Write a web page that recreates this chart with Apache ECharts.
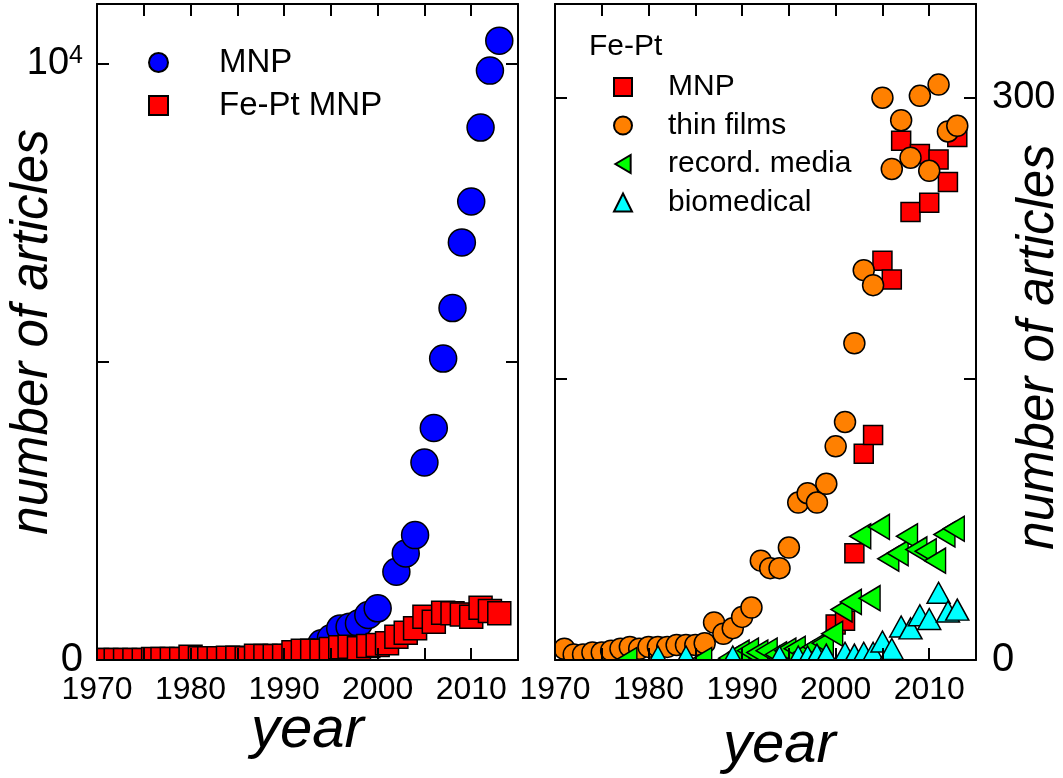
<!DOCTYPE html>
<html>
<head>
<meta charset="utf-8">
<script src="https://cdn.jsdelivr.net/npm/echarts@6/dist/echarts.min.js"></script>
<style>
html,body{margin:0;padding:0;background:#ffffff;}
#chart{width:1063px;height:778px;}
</style>
</head>
<body>
<div id="chart"></div>
<script>
// ---------------- data ----------------
// left panel
const mnpYears   = [1994,1995,1996,1997,1998,1999,2000,2002,2003,2004,2005,2006,2007,2008,2009,2010,2011,2012,2013];
const mnpCounts  = [280,363,530,558,615,754,866,1480,1787,2094,3312,3891,5054,5901,7002,7688,8928,9883,10385];

const fePtYears  = [1970,1971,1972,1973,1974,1975,1976,1977,1978,1979,1980,1981,1982,1983,1984,1985,1986,1987,1988,1989,
                    1990,1991,1992,1993,1994,1995,1996,1997,1998,1999,2000,2001,2002,2003,2004,2005,2006,2007,2008,2009,
                    2010,2011,2012,2013];
const fePtCounts = [0,0,0,0,0,0,17,17,17,17,56,28,28,28,39,39,28,73,67,67,
                    73,128,156,156,156,184,212,223,196,234,251,279,391,458,531,726,642,793,782,765,
                    726,877,821,782];

// right panel (Fe-Pt)
const rMnpYears   = [2000,2001,2002,2003,2004,2005,2006,2007,2008,2009,2010,2011,2012,2013];
const rMnpCounts  = [19,21,57,110,120,213,203,277,239,270,244,267,255,279];

const filmYears   = [1971,1972,1973,1974,1975,1976,1977,1978,1979,1980,1981,1982,1983,1984,1985,1986,1987,1988,1989,1990,
                     1991,1992,1993,1994,1995,1996,1997,1998,1999,2000,2001,2002,2003,2004,2005,2006,2007,2008,2009,2010,
                     2011,2012,2013];
const filmCounts  = [6,3,3,4,4,5,6,7,6,7,7,7,8,8,8,9,20,14,17,23,
                     28,53,49,49,60,84,89,84,94,114,127,169,208,200,300,262,288,268,301,261,
                     307,282,285];

const mediaYears  = [1978,1986,1989,1990,1991,1992,1993,1994,1995,1996,1997,1998,1999,2000,2001,2002,2003,2004,2005,2006,
                     2007,2008,2009,2010,2011,2012,2013];
const mediaCounts = [0,0,1,4,5,4,5,3,5,6,4,7,9,14,27,31,66,33,71,54,
                     57,66,59,58,53,67,70];

const bioYears    = [1981,1984,1989,1994,1996,1997,1998,1999,2001,2002,2003,2004,2005,2006,2007,2008,2009,2010,2011,2012,2013];
const bioCounts   = [0,0,0,0,0,0,1,1,2,1,2,2,8,4,16,15,22,20,34,24,25];

// axis texts
const xAxisTitle = 'year';
const yAxisTitle = 'number of articles';
const xTickStep = 5;       // tick every 5 years, label every 10
const xLabelStep = 10;
const leftYTicks = 5000;
const rightYTicks = 150;
const leftLegendNames = ['MNP', 'Fe-Pt MNP'];
const rightLegendTitle = 'Fe-Pt';
const rightLegendNames = ['MNP', 'thin films', 'record. media', 'biomedical'];

// ---------------- chart ----------------
const NARROW = "'Liberation Sans Narrow','Arial Narrow','Liberation Sans',Arial,sans-serif";
const SANS = "'Liberation Sans',Arial,Helvetica,sans-serif";
const pairs = (xs, ys) => xs.map((x, i) => [x, ys[i]]);
const rKey = n => 'r:' + n;

const lineStyle = {color:'#000', width:2};
const tickStyle = {show:true, inside:true, length:12, lineStyle:{color:'#000', width:2}};

function makeXAxes(gi, nameGap, namePad){
  const base = {type:'value', gridIndex:gi, min:1970, max:2015, interval:xTickStep, z:10,
    axisLine:{show:true, onZero:false, lineStyle:lineStyle},
    axisTick:tickStyle, splitLine:{show:false}};
  return [
    Object.assign({}, base, {position:'bottom', name:xAxisTitle, nameLocation:'middle', nameGap:nameGap,
      nameMoveOverlap:false,
      nameTextStyle:{fontFamily:NARROW, fontStyle:'italic', fontSize:58, color:'#000', padding:namePad},
      axisLabel:{show:true, margin:14, fontFamily:NARROW, fontSize:32, color:'#000',
        formatter: v => (v % xLabelStep === 0 ? String(v) : '')}}),
    Object.assign({}, base, {position:'top', axisLabel:{show:false}})
  ];
}

const ySupRich = {
  z:{fontFamily:NARROW, fontSize:40, color:'#000'},
  b:{fontFamily:SANS, fontSize:38, color:'#000'},
  s:{fontFamily:SANS, fontSize:25, color:'#000', verticalAlign:'top', padding:[0,0,16,0]}
};

const yAxes = [
  // left panel, left side
  {type:'value', gridIndex:0, position:'left', min:0, max:11000, interval:leftYTicks, z:10,
   axisLine:{show:true, onZero:false, lineStyle:lineStyle}, axisTick:tickStyle, splitLine:{show:false},
   name:yAxisTitle, nameLocation:'middle', nameGap:39, nameRotate:90, nameMoveOverlap:false,
   nameTextStyle:{fontFamily:SANS, fontStyle:'italic', fontSize:51, color:'#000'},
   axisLabel:{show:true, margin:14, rich:ySupRich,
     formatter: v => (v === 0 ? '{z|0}' : (v === 2 * leftYTicks ? '{b|10}{s|4}' : ''))}},
  // left panel, right side (mirror)
  {type:'value', gridIndex:0, position:'right', min:0, max:11000, interval:leftYTicks, z:10,
   axisLine:{show:true, onZero:false, lineStyle:lineStyle}, axisTick:tickStyle, splitLine:{show:false},
   axisLabel:{show:false}},
  // right panel, left side (mirror)
  {type:'value', gridIndex:1, position:'left', min:0, max:350, interval:rightYTicks, z:10,
   axisLine:{show:true, onZero:false, lineStyle:lineStyle}, axisTick:tickStyle, splitLine:{show:false},
   axisLabel:{show:false}},
  // right panel, right side
  {type:'value', gridIndex:1, position:'right', min:0, max:350, interval:rightYTicks, z:10,
   axisLine:{show:true, onZero:false, lineStyle:lineStyle}, axisTick:tickStyle, splitLine:{show:false},
   name:yAxisTitle, nameLocation:'middle', nameGap:37, nameRotate:90, nameMoveOverlap:false,
   nameTextStyle:{fontFamily:SANS, fontStyle:'italic', fontSize:51, color:'#000', padding:[0,30,0,0]},
   axisLabel:{show:true, margin:16, rich:ySupRich,
     formatter: v => (v === 0 ? '{z|0}' : (v === 2 * rightYTicks ? '{b|300}' : ''))}}
];

const border = {borderColor:'#000', borderWidth:1.5, opacity:1};
const leftTriangleIcon = 'path://M0,10 L17,0 L17,20 Z';

const option = {
  animation:false,
  backgroundColor:'#ffffff',
  grid:[
    {left:97, top:4, width:421, height:656, containLabel:false, outerBoundsMode:'none'},
    {left:555, top:4, width:421, height:656, containLabel:false, outerBoundsMode:'none'}
  ],
  xAxis:[].concat(makeXAxes(0, 42, [0,0,0,0]), makeXAxes(1, 57, [0,0,0,28])),
  yAxis:yAxes,
  title:{text:rightLegendTitle, left:589, top:32, padding:0,
    textStyle:{fontFamily:SANS, fontSize:30, fontWeight:'normal', color:'#000'}},
  legend:[
    {data:leftLegendNames, orient:'vertical', left:148, top:46, padding:0, itemWidth:19, itemHeight:19, itemGap:10,
     selectedMode:false, textStyle:{fontFamily:SANS, fontSize:33, color:'#000', padding:[0,0,0,46]}},
    {data:rightLegendNames.map((n, i) => (i === 2 ? {name:rKey(n), icon:leftTriangleIcon} : {name:rKey(n)})),
     orient:'vertical', left:613, top:72, padding:0, itemWidth:18, itemHeight:18, itemGap:8.5,
     selectedMode:false, formatter: n => n.slice(2),
     textStyle:{fontFamily:SANS, fontSize:30, color:'#000', padding:[0,0,0,31]}}
  ],
  series:[
    {name:leftLegendNames[0], type:'scatter', xAxisIndex:0, yAxisIndex:0, clip:false,
     symbol:'circle', symbolSize:27, itemStyle:Object.assign({color:'#0000ff'}, border),
     data:pairs(mnpYears, mnpCounts)},
    {name:leftLegendNames[1], type:'scatter', xAxisIndex:0, yAxisIndex:0, clip:false,
     symbol:'rect', symbolSize:23, itemStyle:Object.assign({color:'#ff0000'}, border),
     data:pairs(fePtYears, fePtCounts)},
    {name:rKey(rightLegendNames[0]), type:'scatter', xAxisIndex:2, yAxisIndex:3, clip:false,
     symbol:'rect', symbolSize:19, itemStyle:Object.assign({color:'#ff0000'}, border),
     data:pairs(rMnpYears, rMnpCounts)},
    {name:rKey(rightLegendNames[1]), type:'scatter', xAxisIndex:2, yAxisIndex:3, clip:false,
     symbol:'circle', symbolSize:21, itemStyle:Object.assign({color:'#ff8000'}, border),
     data:pairs(filmYears, filmCounts)},
    {name:rKey(rightLegendNames[2]), type:'scatter', xAxisIndex:2, yAxisIndex:3, clip:false,
     symbol:'triangle', symbolSize:[25,21], symbolRotate:90, symbolOffset:[-3.5,0],
     itemStyle:Object.assign({color:'#00ff00'}, border),
     data:pairs(mediaYears, mediaCounts)},
    {name:rKey(rightLegendNames[3]), type:'scatter', xAxisIndex:2, yAxisIndex:3, clip:false,
     symbol:'triangle', symbolSize:[23,21], symbolOffset:[0,-3.5],
     itemStyle:Object.assign({color:'#00ffff'}, border),
     data:pairs(bioYears, bioCounts)}
  ]
};

const chart = echarts.init(document.getElementById('chart'), null, {renderer:'canvas'});
chart.setOption(option);

// white masks outside each plot box so that markers are cut at the frame (like the original)
function masks(){
  const H = 778, out = [];
  const boxes = [
    [chart.convertToPixel({xAxisIndex:0, yAxisIndex:0}, [1970, 0]), chart.convertToPixel({xAxisIndex:0, yAxisIndex:0}, [2015, 11000])],
    [chart.convertToPixel({xAxisIndex:2, yAxisIndex:3}, [1970, 0]), chart.convertToPixel({xAxisIndex:2, yAxisIndex:3}, [2015, 350])]
  ];
  boxes.forEach(([p0, p1]) => {
    const x0 = p0[0], y0 = p0[1], x1 = p1[0], y1 = p1[1];
    const st = {fill:'#ffffff'};
    out.push({type:'rect', z:5, silent:true, shape:{x:x0 - 40, y:y0, width:(x1 - x0) + 80, height:H - y0}, style:st});
    out.push({type:'rect', z:5, silent:true, shape:{x:x0 - 40, y:0, width:40, height:y0}, style:st});
    out.push({type:'rect', z:5, silent:true, shape:{x:x1, y:0, width:30, height:y0}, style:st});
    out.push({type:'rect', z:5, silent:true, shape:{x:x0, y:0, width:x1 - x0, height:y1}, style:st});
  });
  return out;
}
chart.setOption({graphic:masks()});
</script>
</body>
</html>
